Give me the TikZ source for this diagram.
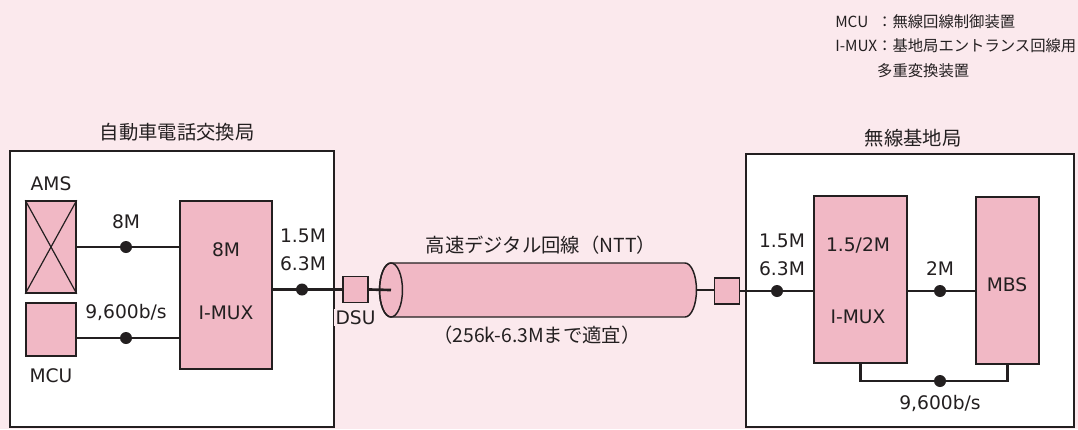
\documentclass[tikz,border=0pt]{standalone}
\usepackage{fontspec}
\setmainfont{DejaVu Sans}
\newfontfamily\jpfont{Noto Sans CJK JP}
\usepackage{xcolor}
\usetikzlibrary{positioning,calc}
\definecolor{paper}{HTML}{FBE9ED}
\definecolor{rose}{HTML}{F1B8C5}
\definecolor{ink}{HTML}{231F20}
\tikzset{
  station/.style={rectangle, draw=ink, fill=white, line width=1pt, inner sep=0pt},
  unit/.style={rectangle, draw=ink, fill=rose, line width=1.1pt, inner sep=0pt},
  dsubox/.style={unit, minimum width=18.75pt, minimum height=19.5pt},
  lbl/.style={font=\fontsize{14}{21}\selectfont, text=ink, align=center, inner sep=1pt},
  jlbl/.style={font=\jpfont\fontsize{14.5}{17}\selectfont, text=ink, inner sep=1pt},
  link/.style={draw=ink, line width=2pt},
  tap/.style={circle, fill=ink, inner sep=0pt, minimum size=9pt},
}

\begin{document}
\begin{tikzpicture}[x=0.75pt,y=-0.75pt]
\fill[paper] (0,0) rectangle (1078,429);
\useasboundingbox (0,0) rectangle (1078,429);

\node[station, minimum width=243pt, minimum height=207pt] (exch) at (172,289) {};
\node[station, minimum width=246pt, minimum height=204.75pt] (base) at (910,290.5) {};
\node[jlbl] (exchname) at (177,132) {自動車電話交換局};
\node[jlbl] (basename) at (913,138) {無線基地局};

\coordinate (nttL) at (391,290);
\coordinate (nttR) at (685,290);
\coordinate (nttE) at (696.5,290);
\draw[ink, line width=1.1pt, fill=rose] ([yshift=20.25pt]nttL) -- ([yshift=20.25pt]nttR)
  arc[start angle=90, end angle=-90, x radius=8.6pt, y radius=20.25pt]
  -- ([yshift=-20.25pt]nttL) arc[start angle=270, end angle=90, x radius=8.6pt, y radius=20.25pt] -- cycle;
\draw[ink, line width=1.1pt] (nttL) ellipse[x radius=8.6pt, y radius=20.25pt];

\node[unit, minimum width=37.5pt, minimum height=69pt] (ams) at (51,247) {};
\draw[ink, line width=0.9pt] (ams.north west) -- (ams.south east) (ams.north east) -- (ams.south west);
\node[unit, minimum width=37.5pt, minimum height=39.75pt] (mcu) at (51,329.5) {};
\node[unit, minimum width=69pt, minimum height=126pt] (mux1) at (226,285) {};
\node[dsubox] (dsu1) at (355.5,289.5) {};
\node[dsubox] (dsu2) at (727,291) {};
\node[unit, minimum width=69.75pt, minimum height=125.25pt] (mux2) at (860.5,279.5) {};
\node[unit, minimum width=47.25pt, minimum height=125.25pt] (mbs) at (1007.5,280.5) {};

\node[tap] (t1) at (126,247) {};
\node[tap] (t2) at (126,338) {};
\node[tap] (t3) at (302,289.5) {};
\node[tap] (t4) at (777,291) {};
\node[tap] (t5) at (940,291) {};
\node[tap] (t6) at (940,381) {};

\draw[link] (t1 -| ams.east) -- (t1 -| mux1.west);
\draw[link] (t2 -| mcu.east) -- (t2 -| mux1.west);
\draw[link] (t3 -| mux1.east) -- (dsu1.west);
\draw[link] (dsu1.east) -- (nttL);
\draw[link] (nttE) -- (nttE -| dsu2.west);
\draw[link] (dsu2.east) -- (t4 -| mux2.west);
\draw[link] (t5 -| mux2.east) -- (t5 -| mbs.west);
\draw[link] (mux2.south) |- (t6) -| (mbs.south);

\node[lbl, above=6pt of ams] (amsl) {AMS};
\node[lbl, below=8pt of mcu] (mcul) {MCU};
\node[lbl, above=8pt of t1] (rate1) {8M};
\node[lbl, above=7pt of t2] (rate2) {9,600b/s};
\node[lbl] (mux1a) at (226,250) {8M};
\node[lbl] (mux1b) at (226,313) {I-MUX};
\node[lbl] (rate3) at (303,250) {1.5M\\6.3M};
\node[lbl, fill=paper, below=4pt of dsu1] (dsul) {DSU};
\node[jlbl] (nttname) at (541,245) {高速デジタル回線（NTT）};
\node[jlbl] (nttnote) at (537,335) {（256k-6.3Mまで適宜）};
\node[lbl] (rate4) at (782,255) {1.5M\\6.3M};
\node[lbl] (mux2a) at (858,245) {1.5/2M};
\node[lbl] (mux2b) at (858,317) {I-MUX};
\node[lbl, above=6pt of t5] (rate5) {2M};
\node[lbl] (mbsl) at (1007,285) {MBS};
\node[lbl, below=5pt of t6] (rate6) {9,600b/s};

\node[anchor=north west, font=\jpfont\fontsize{11.5}{18.4}\selectfont, text=ink, inner sep=0pt] (legend) at (835,10)
  {\begin{tabular}{@{}l@{}l@{}}MCU & ：無線回線制御装置\\ I-MUX & ：基地局エントランス回線用\\ & 多重変換装置\end{tabular}};
\end{tikzpicture}
\end{document}
